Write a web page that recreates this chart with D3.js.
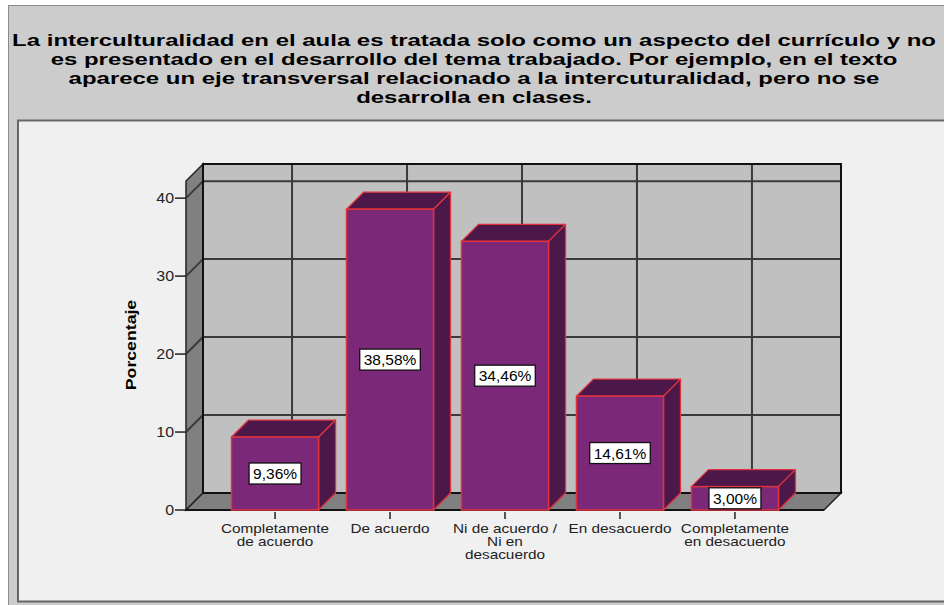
<!DOCTYPE html>
<html><head><meta charset="utf-8">
<script src="https://cdn.jsdelivr.net/npm/d3@7"></script>
<style>body{margin:0;background:#fff;} svg{display:block;}</style>
</head><body>
<svg id="c" width="944" height="605"></svg>
<script>
const titleLines = [
  "La interculturalidad en el aula es tratada solo como un aspecto del currículo y no",
  "es presentado en el desarrollo del tema trabajado. Por ejemplo, en el texto",
  "aparece un eje transversal relacionado a la intercuturalidad, pero no se",
  "desarrolla en clases."
];
const categories = ["Completamente de acuerdo","De acuerdo","Ni de acuerdo / Ni en desacuerdo","En desacuerdo","Completamente en desacuerdo"];
const categoryLines = [["Completamente","de acuerdo"],["De acuerdo"],["Ni de acuerdo /","Ni en","desacuerdo"],["En desacuerdo"],["Completamente","en desacuerdo"]];
const percentages = [9.36, 38.58, 34.46, 14.61, 3.00];
const valueLabels = ["9,36%","38,58%","34,46%","14,61%","3,00%"];
const yTicks = [0, 10, 20, 30, 40];
const yMax = 42.2;
const yTitle = "Porcentaje";

const svg = d3.select("#c");
const FONT = "'Liberation Sans', Arial, sans-serif";
const D = 17; // depth offset

// frames
svg.append("rect").attr("x",8.5).attr("y",5.5).attr("width",950).attr("height",620)
  .attr("fill","#cccccc").attr("stroke","#8c8c8c").attr("stroke-width",1);
svg.append("rect").attr("x",18).attr("y",120.5).attr("width",940).attr("height",481)
  .attr("fill","#f0f0f0").attr("stroke","#666").attr("stroke-width",2);

// title
titleLines.forEach((t,i)=>{
  svg.append("g").attr("transform",`translate(474,${46+i*19}) scale(1.41,1)`)
    .append("text").attr("text-anchor","middle").attr("font-family",FONT)
    .attr("font-weight","bold").attr("font-size",17).attr("fill","#000").text(t);
});

const x = d3.scaleBand().domain(categories).range([186, 824]).paddingInner(0.243).paddingOuter(0.396);
const y = d3.scaleLinear().domain([0, yMax]).range([510, 181]);
const x0 = x.range()[0], x1 = x.range()[1];
const bw = x.bandwidth();

const gridCol = "#3a3a3a";
// back wall
svg.append("rect").attr("x",x0+D).attr("y",y(yMax)-D).attr("width",x1-x0).attr("height",y(0)-y(yMax))
  .attr("fill","#c0c0c0");
// horizontal grid on back wall
svg.selectAll(".hg").data(yTicks.filter(d=>d>0)).join("line")
  .attr("x1",x0+D).attr("x2",x1+D).attr("y1",d=>y(d)-D).attr("y2",d=>y(d)-D)
  .attr("stroke",gridCol).attr("stroke-width",2);
// vertical grid on back wall
svg.selectAll(".vg").data(categories).join("line")
  .attr("x1",d=>x(d)+bw/2+D).attr("x2",d=>x(d)+bw/2+D)
  .attr("y1",y(yMax)-D).attr("y2",y(0)-D)
  .attr("stroke",gridCol).attr("stroke-width",2);
// side wall
svg.append("polygon").attr("points",[[x0,y(0)],[x0+D,y(0)-D],[x0+D,y(yMax)-D],[x0,y(yMax)]].join(" "))
  .attr("fill","#808080").attr("stroke","#222").attr("stroke-width",1.5);
svg.selectAll(".sg").data(yTicks.filter(d=>d>0)).join("line")
  .attr("x1",x0).attr("x2",x0+D).attr("y1",d=>y(d)).attr("y2",d=>y(d)-D)
  .attr("stroke",gridCol).attr("stroke-width",2);
// floor
svg.append("polygon").attr("points",[[x0,y(0)],[x1,y(0)],[x1+D,y(0)-D],[x0+D,y(0)-D]].join(" "))
  .attr("fill","#808080").attr("stroke","#222").attr("stroke-width",1.5);
// back wall outline
svg.append("rect").attr("x",x0+D).attr("y",y(yMax)-D).attr("width",x1-x0).attr("height",y(0)-y(yMax))
  .attr("fill","none").attr("stroke","#111").attr("stroke-width",2);
svg.append("line").attr("x1",x0).attr("x2",x1).attr("y1",y(0)).attr("y2",y(0)).attr("stroke","#111").attr("stroke-width",2);

// y ticks
svg.selectAll(".yt").data(yTicks).join("line")
  .attr("x1",x0-11).attr("x2",x0).attr("y1",d=>y(d)).attr("y2",d=>y(d))
  .attr("stroke","#222").attr("stroke-width",1.5);
yTicks.forEach(d=>{
  svg.append("g").attr("transform",`translate(${x0-12},${y(d)+5}) scale(1.14,1)`)
    .append("text").attr("text-anchor","end").attr("font-family",FONT).attr("font-size",14)
    .attr("fill","#222").text(d);
});
// y title
svg.append("g").attr("transform",`translate(136,345) rotate(-90) scale(1.18,1)`)
  .append("text").attr("text-anchor","middle").attr("font-family",FONT).attr("font-weight","bold")
  .attr("font-size",15).attr("fill","#000").text(yTitle);

// bars
const front = "#7b2879", dark = "#4b1849", edge = "#e0333d";
categories.forEach((c,i)=>{
  const bx = x(c), by = y(percentages[i]), b0 = y(0);
  const g = svg.append("g");
  g.append("polygon").attr("points",[[bx,by],[bx+D,by-D],[bx+bw+D,by-D],[bx+bw,by]].join(" "))
    .attr("fill",dark).attr("stroke",edge).attr("stroke-width",1.3).attr("stroke-linejoin","round");
  g.append("polygon").attr("points",[[bx+bw,by],[bx+bw+D,by-D],[bx+bw+D,b0-D],[bx+bw,b0]].join(" "))
    .attr("fill",dark).attr("stroke",edge).attr("stroke-width",1.3).attr("stroke-linejoin","round");
  g.append("rect").attr("x",bx).attr("y",by).attr("width",bw).attr("height",b0-by)
    .attr("fill",front).attr("stroke",edge).attr("stroke-width",1.5);
});

// value labels
categories.forEach((c,i)=>{
  const cx = x(c)+bw/2, cy = (y(percentages[i])+y(0))/2;
  const g = svg.append("g").attr("transform",`translate(${cx},${cy})`);
  const t = g.append("text").attr("text-anchor","middle").attr("y",5.5).attr("font-family",FONT)
    .attr("font-size",15.5).attr("fill","#000").text(valueLabels[i]);
  const w = t.node().getComputedTextLength();
  g.insert("rect","text").attr("x",-w/2-4).attr("y",-10.5).attr("width",w+8).attr("height",21)
    .attr("fill","#fff").attr("stroke","#111").attr("stroke-width",1.3);
});

// category ticks and labels
categories.forEach((c,i)=>{
  const cx = x(c)+bw/2;
  svg.append("line").attr("x1",cx).attr("x2",cx).attr("y1",y(0)+2).attr("y2",y(0)+9)
    .attr("stroke","#222").attr("stroke-width",1.5);
  categoryLines[i].forEach((ln,j)=>{
    svg.append("g").attr("transform",`translate(${cx},${533+j*12.8}) scale(1.18,1)`)
      .append("text").attr("text-anchor","middle").attr("font-family",FONT).attr("font-size",13)
      .attr("fill","#222").text(ln);
  });
});
</script>
</body></html>
